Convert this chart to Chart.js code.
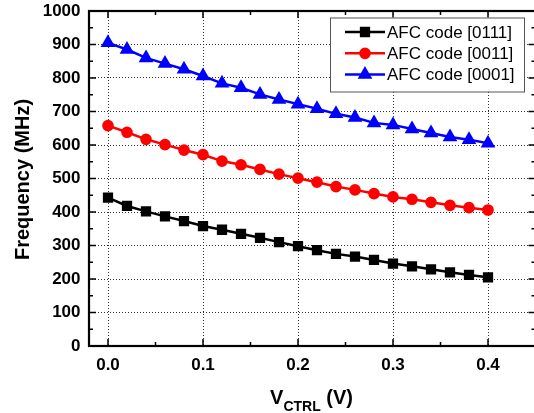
<!DOCTYPE html>
<html><head><meta charset="utf-8">
<script src="https://cdn.jsdelivr.net/npm/chart.js@4"></script>
<style>
html,body{margin:0;padding:0;overflow:hidden;background:#fff;width:534px;height:413px}
#wrap{position:relative;width:544px;height:413px}
</style>
</head><body><div id="wrap"><canvas id="c" width="544" height="413"></canvas></div>
<script>
const vctrl = [0,0.02,0.04,0.06,0.08,0.1,0.12,0.14,0.16,0.18,0.2,0.22,0.24,0.26,0.28,0.3,0.32,0.34,0.36,0.38,0.4];
const afc0111 = [443,418,402,387,373,358,347,335,323,310,298,286,275,267,257,246,238,229,220,212,205];
const afc0011 = [658,638,617,601,585,571,552,541,527,513,501,489,476,466,455,445,438,429,420,413,406];
const afc0001 = [905,885,860,843,826,806,784,771,751,736,722,708,693,682,666,660,648,636,624,616,605];
const seriesLabels = ['AFC code [0111]','AFC code [0011]','AFC code [0001]'];
const xTickValues = [0,0.1,0.2,0.3,0.4];
const xMinorTicks = [0.05,0.15,0.25,0.35,0.45];
const yTickValues = [0,100,200,300,400,500,600,700,800,900,1000];
const yMinorTicks = [50,150,250,350,450,550,650,750,850,950];
const yAxisTitle = 'Frequency (MHz)';
const xAxisTitleMain = 'V';
const xAxisTitleSub = 'CTRL';
const xAxisTitleTail = ' (V)';

const FONT = '"Liberation Sans", Arial, sans-serif';

function series(arr){ return vctrl.map((x,i)=>({x:x, y:arr[i]})); }

const framePlugin = {
  id:'frame',
  afterDraw(chart){
    const {ctx, chartArea:{left,right,top,bottom}, scales:{x,y}} = chart;
    ctx.save();
    ctx.strokeStyle='#000';
    ctx.lineWidth=1.5;
    const tk=(v,len,axis)=>{
      ctx.beginPath();
      if(axis==='x'){
        const px=x.getPixelForValue(v);
        ctx.moveTo(px,bottom); ctx.lineTo(px,bottom-len);
        ctx.moveTo(px,top); ctx.lineTo(px,top+len);
      } else {
        const py=y.getPixelForValue(v);
        ctx.moveTo(left,py); ctx.lineTo(left+len,py);
        ctx.moveTo(right,py); ctx.lineTo(right-len,py);
      }
      ctx.stroke();
    };
    xTickValues.forEach(v=>tk(v,7,'x'));
    xMinorTicks.forEach(v=>tk(v,4,'x'));
    yTickValues.forEach(v=>tk(v,7,'y'));
    yMinorTicks.forEach(v=>tk(v,4,'y'));
    ctx.lineWidth=2.2;
    ctx.strokeRect(left,top,right-left,bottom-top);

    // legend
    const bx=330, by=top+6.5, bw=194, bh=74;
    ctx.fillStyle='#fff';
    ctx.fillRect(bx,by,bw,bh);
    ctx.strokeStyle='#555';
    ctx.lineWidth=1;
    ctx.strokeRect(bx+0.5,by+0.5,bw,bh);
    chart.data.datasets.forEach((ds,i)=>{
      const cy=by+14.5+i*21.3;
      ctx.strokeStyle=ds.borderColor;
      ctx.lineWidth=2.5;
      ctx.beginPath(); ctx.moveTo(bx+15,cy); ctx.lineTo(bx+55,cy); ctx.stroke();
      Chart.helpers.drawPoint(ctx,{pointStyle:ds.pointStyle, rotation:0, borderWidth:1, radius:ds.pointRadius},bx+35,cy);
      ctx.fillStyle=ds.borderColor;
      ctx.fill();
      ctx.fillStyle='#000';
      ctx.font='17px '+FONT;
      ctx.textAlign='left'; ctx.textBaseline='middle';
      ctx.fillText(ds.label,bx+57,cy+1);
    });

    // y title
    ctx.fillStyle='#000';
    ctx.save();
    ctx.translate(23,(top+bottom)/2+1);
    ctx.rotate(-Math.PI/2);
    ctx.font='bold 20px '+FONT;
    ctx.textAlign='center'; ctx.textBaseline='middle';
    ctx.fillText(yAxisTitle,0,0);
    ctx.restore();

    // x title with subscript
    const fMain='bold 20px '+FONT, fSub='bold 14px '+FONT;
    ctx.font=fMain; const w1=ctx.measureText(xAxisTitleMain).width;
    const w3=ctx.measureText(xAxisTitleTail).width;
    ctx.font=fSub; const w2=ctx.measureText(xAxisTitleSub).width;
    const total=w1+w2+w3;
    let sx=311.5 - total/2;
    const base=404;
    ctx.textAlign='left'; ctx.textBaseline='alphabetic';
    ctx.font=fMain; ctx.fillText(xAxisTitleMain,sx,base); sx+=w1;
    ctx.font=fSub; ctx.fillText(xAxisTitleSub,sx,base+7); sx+=w2;
    ctx.font=fMain; ctx.fillText(xAxisTitleTail,sx,base);
    ctx.restore();
  }
};

new Chart(document.getElementById('c'),{
  type:'line',
  data:{datasets:[
    {label:seriesLabels[0],data:series(afc0111),borderColor:'#000000',backgroundColor:'#000000',pointStyle:'rect',pointRadius:5.5,pointHoverRadius:5.5,borderWidth:2.5},
    {label:seriesLabels[1],data:series(afc0011),borderColor:'#ff0000',backgroundColor:'#ff0000',pointStyle:'circle',pointRadius:4.6,pointHoverRadius:4.6,borderWidth:2.5},
    {label:seriesLabels[2],data:series(afc0001),borderColor:'#0000ff',backgroundColor:'#0000ff',pointStyle:'triangle',pointRadius:6,pointHoverRadius:6,borderWidth:2.5}
  ]},
  options:{
    responsive:false, animation:false, devicePixelRatio:1,
    layout:{padding:{top:11,right:4.5,left:0,bottom:0}},
    plugins:{legend:{display:false},tooltip:{enabled:false}},
    elements:{line:{tension:0}},
    scales:{
      x:{type:'linear',min:-0.02,max:0.45,
        afterBuildTicks:s=>{s.ticks=xTickValues.map(v=>({value:v}));},
        afterFit:s=>{s.height=67;s.paddingLeft=0;s.paddingRight=0;},
        ticks:{callback:v=>Number(v).toFixed(1),font:{size:17,weight:'bold',family:FONT},color:'#000',padding:9,maxRotation:0,autoSkip:false},
        grid:{color:'#333',lineWidth:1,drawTicks:false},
        border:{display:false,dash:[1,2]}
      },
      y:{type:'linear',min:0,max:1000,
        afterBuildTicks:s=>{s.ticks=yTickValues.map(v=>({value:v}));},
        afterFit:s=>{s.width=89;s.paddingTop=0;s.paddingBottom=0;},
        ticks:{callback:v=>String(v),font:{size:17,weight:'bold',family:FONT},color:'#000',padding:8.5,autoSkip:false},
        grid:{color:'#333',lineWidth:1,drawTicks:false},
        border:{display:false,dash:[1,2]}
      }
    }
  },
  plugins:[framePlugin]
});
</script>
</body></html>
